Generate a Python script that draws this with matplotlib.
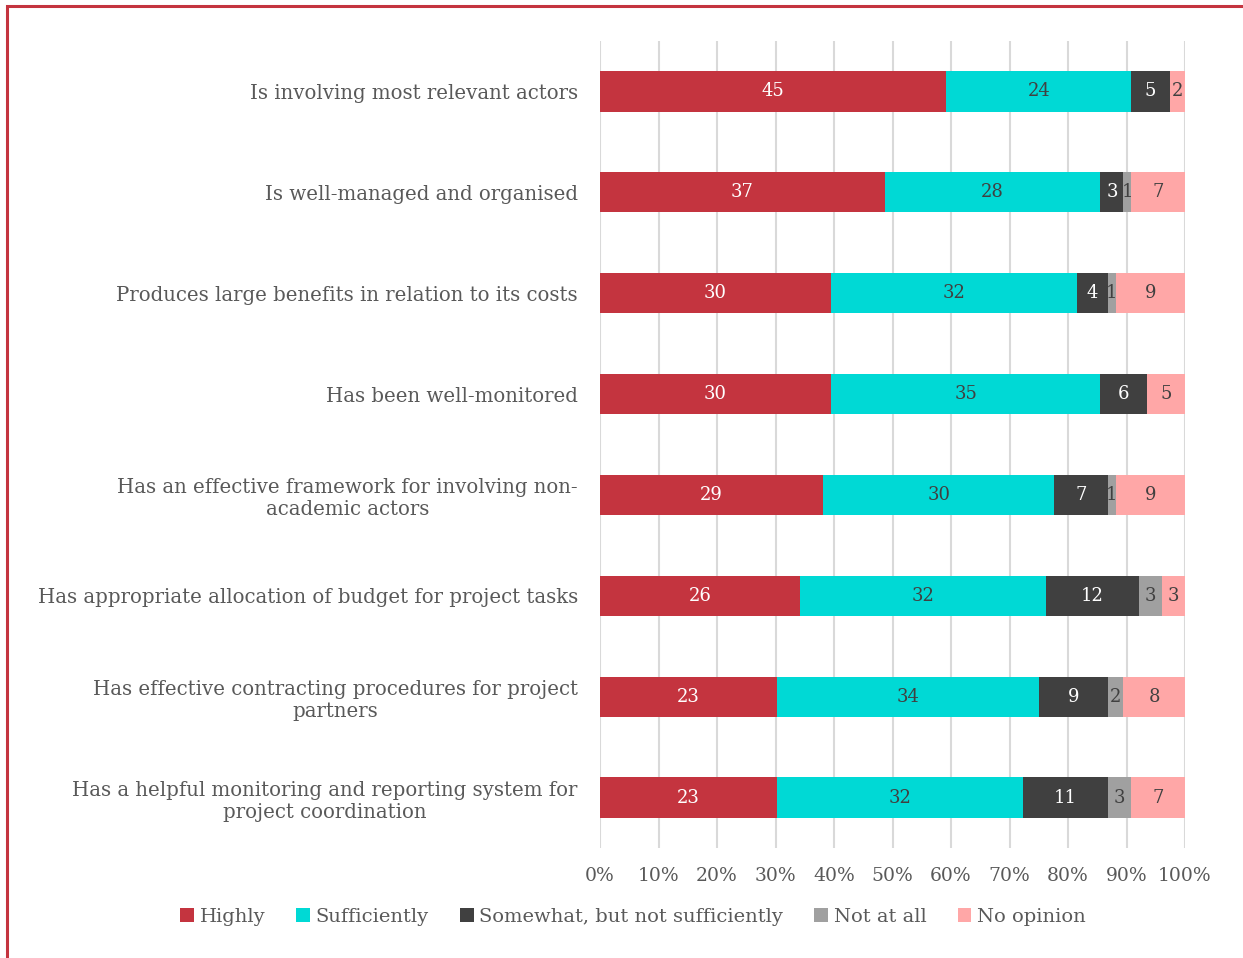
import numpy as np
import matplotlib.pyplot as plt
from matplotlib.patches import Rectangle

# survey statements, top to bottom
statements = [
    "Is involving most relevant actors",
    "Is well-managed and organised",
    "Produces large benefits in relation to its costs",
    "Has been well-monitored",
    "Has an effective framework for involving non-\nacademic actors",
    "Has appropriate allocation of budget for project tasks",
    "Has effective contracting procedures for project\npartners",
    "Has a helpful monitoring and reporting system for\nproject coordination",
]

answers = ["Highly", "Sufficiently", "Somewhat, but not sufficiently", "Not at all", "No opinion"]

highly = [45, 37, 30, 30, 29, 26, 23, 23]
sufficiently = [24, 28, 32, 35, 30, 32, 34, 32]
somewhat = [5, 3, 4, 6, 7, 12, 9, 11]
not_at_all = [0, 1, 1, 0, 1, 3, 2, 3]
no_opinion = [2, 7, 9, 5, 9, 3, 8, 7]

colors = ["#C4343F", "#00D9D5", "#404040", "#A0A0A0", "#FFA7A7"]
label_colors = ["white", "#404040", "white", "#404040", "#404040"]
text_grey = "#595959"

plt.rcParams['font.family'] = ['DejaVu Serif']

counts = np.array([highly, sufficiently, somewhat, not_at_all, no_opinion], dtype=float)
totals = counts.sum(axis=0)
shares = counts / totals * 100

fig = plt.figure(figsize=(12.43, 9.58), dpi=100)
ax = fig.add_axes([600 / 1243, 1 - 848 / 958, 585 / 1243, 807 / 958])

y = np.arange(len(statements))
left = np.zeros(len(statements))
for k in range(len(answers)):
    ax.barh(y, shares[k], left=left, height=0.4, color=colors[k],
            label=answers[k], zorder=3)
    for i in range(len(statements)):
        if counts[k, i] > 0:
            ax.text(left[i] + shares[k, i] / 2, y[i], "%d" % counts[k, i],
                    ha="center", va="center", fontsize=13,
                    color=label_colors[k], zorder=4)
    left += shares[k]

ax.set_ylim(len(statements) - 0.5, -0.5)
ax.set_xlim(0, 100)
ax.set_xticks(np.arange(0, 101, 10))
ax.set_xticklabels(["%d%%" % v for v in range(0, 101, 10)])
ax.set_yticks(y)
ax.set_yticklabels(statements, fontsize=14.2, color=text_grey, multialignment="center")
ax.tick_params(axis="x", length=0, pad=14, labelsize=13.5, labelcolor=text_grey)
ax.tick_params(axis="y", length=0, pad=16)
ax.grid(axis="x", color="#D9D9D9", linewidth=1.5, zorder=0)
for s in ax.spines.values():
    s.set_visible(False)

leg = fig.legend(loc="center", bbox_to_anchor=(633 / 1243, 1 - 917 / 958), ncol=5,
                 frameon=False, fontsize=14, handlelength=0.7, handleheight=0.7,
                 handletextpad=0.3, columnspacing=1.6)
for t in leg.get_texts():
    t.set_color(text_grey)

# red frame around the panel
fig.patches.append(Rectangle((7 / 1243, -0.1), 1.2, 1 - 6 / 958 + 0.1,
                             transform=fig.transFigure, fill=False,
                             edgecolor="#C4343F", linewidth=2.2))

fig.savefig("out.png", dpi=100)
